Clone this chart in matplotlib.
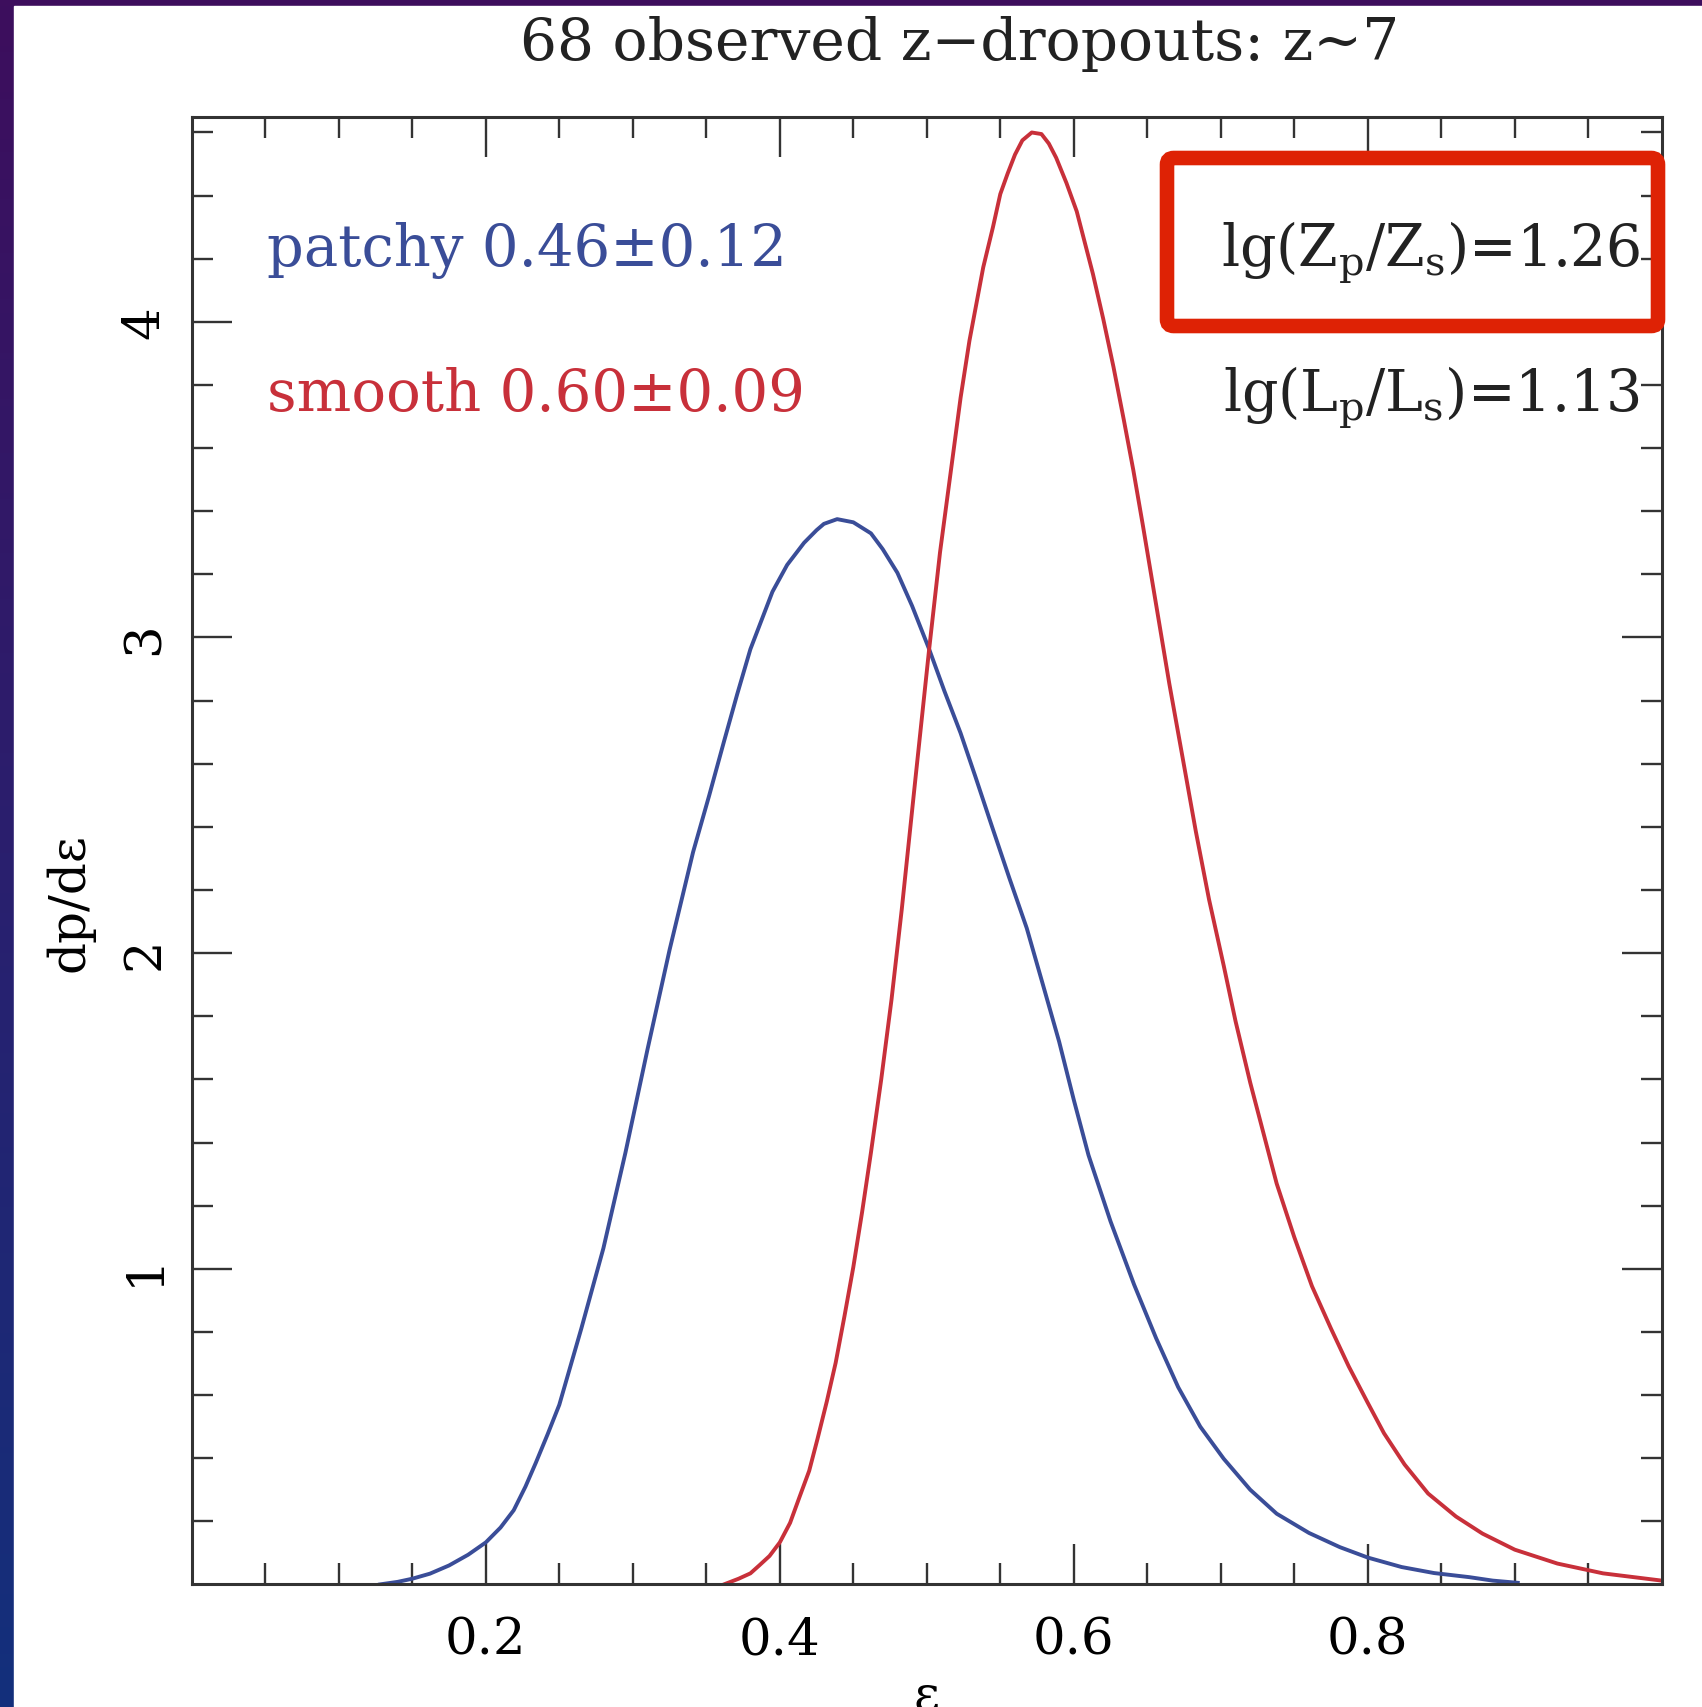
import numpy as np
import matplotlib
matplotlib.use("Agg")
import matplotlib.pyplot as plt
from matplotlib.patches import Rectangle, FancyBboxPatch

plt.rcParams['font.family'] = ['DejaVu Serif']
plt.rcParams['mathtext.fontset'] = 'dejavuserif'

# values
eps_patchy = [0.128, 0.14, 0.15, 0.162, 0.175, 0.188, 0.20, 0.21, 0.219, 0.227,
              0.234, 0.242, 0.25, 0.2575, 0.265, 0.28, 0.295, 0.31, 0.325, 0.341,
              0.352, 0.362, 0.371, 0.38, 0.388, 0.395, 0.405, 0.4165, 0.425, 0.43,
              0.439, 0.45, 0.462, 0.47, 0.48, 0.49, 0.5016, 0.512, 0.523, 0.533,
              0.544, 0.556, 0.568, 0.579, 0.59, 0.60, 0.61, 0.625, 0.641, 0.656,
              0.671, 0.686, 0.702, 0.72, 0.738, 0.76, 0.781, 0.80, 0.823, 0.845,
              0.869, 0.885, 0.902]
dp_patchy = [0.0, 0.008, 0.018, 0.034, 0.06, 0.094, 0.133, 0.18, 0.235, 0.31,
             0.385, 0.475, 0.569, 0.69, 0.811, 1.065, 1.368, 1.695, 2.01, 2.32,
             2.50, 2.67, 2.82, 2.963, 3.06, 3.145, 3.23, 3.30, 3.34, 3.36,
             3.375, 3.365, 3.33, 3.28, 3.205, 3.10, 2.963, 2.83, 2.697, 2.56,
             2.406, 2.24, 2.079, 1.90, 1.72, 1.535, 1.36, 1.15, 0.95, 0.78,
             0.625, 0.50, 0.398, 0.30, 0.224, 0.163, 0.118, 0.085, 0.055, 0.036,
             0.023, 0.012, 0.005]

eps_smooth = [0.362, 0.372, 0.38, 0.386, 0.393, 0.40, 0.407, 0.4135, 0.42, 0.4256,
              0.432, 0.438, 0.444, 0.45, 0.456, 0.462, 0.469, 0.476, 0.483, 0.4925,
              0.5016, 0.509, 0.517, 0.523, 0.529, 0.5384, 0.545, 0.55, 0.555, 0.56,
              0.565, 0.5714, 0.578, 0.583, 0.588, 0.595, 0.602, 0.613, 0.62, 0.627,
              0.634, 0.6405, 0.647, 0.654, 0.665, 0.674, 0.683, 0.692, 0.702, 0.71,
              0.72, 0.729, 0.738, 0.75, 0.762, 0.775, 0.787, 0.80, 0.811, 0.825,
              0.841, 0.86, 0.878, 0.90, 0.929, 0.96, 1.0]
dp_smooth = [0.0, 0.018, 0.035, 0.06, 0.09, 0.133, 0.195, 0.278, 0.36, 0.46,
             0.58, 0.702, 0.85, 1.005, 1.18, 1.368, 1.60, 1.853, 2.14, 2.563,
             2.963, 3.27, 3.55, 3.76, 3.94, 4.173, 4.30, 4.405, 4.47, 4.53,
             4.575, 4.60, 4.595, 4.565, 4.52, 4.44, 4.35, 4.152, 4.01, 3.857,
             3.69, 3.53, 3.355, 3.16, 2.853, 2.62, 2.386, 2.17, 1.96, 1.785,
             1.59, 1.43, 1.27, 1.10, 0.945, 0.81, 0.691, 0.575, 0.479, 0.38,
             0.288, 0.215, 0.161, 0.11, 0.066, 0.035, 0.012]

title = "68 observed z\u2212dropouts: z~7"
patchy_label = "patchy 0.46\u00b10.12"
smooth_label = "smooth 0.60\u00b10.09"
ratio_labels = [r"lg(Z$_{\rm p}$/Z$_{\rm s}$)=1.26", r"lg(L$_{\rm p}$/L$_{\rm s}$)=1.13"]

blue = '#3a4d98'
red = '#c8303a'
W, H = 1702, 1708

fig = plt.figure(figsize=(W / 100, H / 100), dpi=100)

# slide background: purple-to-blue gradient with a white panel
bg = fig.add_axes([0, 0, 1, 1], zorder=-10)
grad = np.linspace(0, 1, 256).reshape(-1, 1)
cmap = matplotlib.colors.LinearSegmentedColormap.from_list('slide', ['#3d0e5d', '#2a1f6e', '#13307c'])
bg.imshow(grad, aspect='auto', cmap=cmap, extent=[0, 1, 0, 1], origin='upper')
bg.add_patch(Rectangle((14 / W, 0), 1 - 14 / W, 1 - 7 / H, color='white'))
bg.set_xlim(0, 1)
bg.set_ylim(0, 1)
bg.axis('off')

ax = fig.add_axes([191.8 / W, 1 - 1585.4 / H, 1470 / W, 1467.7 / H])
ax.plot(eps_patchy, dp_patchy, color=blue, lw=2.8, solid_joinstyle='round')
ax.plot(eps_smooth, dp_smooth, color=red, lw=2.8, solid_joinstyle='round')

ax.set_xlim(0, 1)
ax.set_ylim(0, 4.65)
ax.set_xticks([0.2, 0.4, 0.6, 0.8])
ax.set_xticks(np.arange(0.05, 1.0, 0.05), minor=True)
ax.set_yticks([1, 2, 3, 4])
ax.set_yticks(np.arange(0.2, 4.65, 0.2), minor=True)
ax.tick_params(which='both', direction='in', top=True, right=True, color='#333333', width=1.7)
ax.tick_params(which='major', length=29)
ax.tick_params(which='minor', length=15)
ax.tick_params(axis='x', which='major', labelsize=37, pad=22)
ax.tick_params(axis='y', which='major', labelsize=37, pad=16, labelrotation=90)
for lab in ax.get_yticklabels():
    lab.set_va('center')
for sp in ax.spines.values():
    sp.set_linewidth(2.2)
    sp.set_color('#333333')

ax.set_xlabel("\u03b5", fontsize=36)
ax.xaxis.set_label_coords(0.5, -0.059)
ax.set_ylabel("dp/d\u03b5", fontsize=36)
ax.yaxis.set_label_coords(-0.066, 0.465)

fig.text(960 / W, 1 - 44 / H, title, fontsize=42, ha='center', va='center', color='#222222')

ax.text(0.051, 4.18, patchy_label, color=blue, fontsize=41.5, va='baseline')
ax.text(0.051, 3.72, smooth_label, color=red, fontsize=41.5, va='baseline')
ax.text(0.985, 4.18, ratio_labels[0], color='#222222', fontsize=41, ha='right', va='baseline')
ax.text(0.985, 3.72, ratio_labels[1], color='#222222', fontsize=41, ha='right', va='baseline')

# red highlight box round the first ratio
box = FancyBboxPatch((1167 / W, 1 - 327 / H), (1658 - 1167) / W, (327 - 159) / H,
                     boxstyle='round,pad=0,rounding_size=0.004', transform=fig.transFigure,
                     fill=False, edgecolor='#de2205', lw=10.5, zorder=20)
fig.add_artist(box)

fig.savefig('out.png', dpi=100)
